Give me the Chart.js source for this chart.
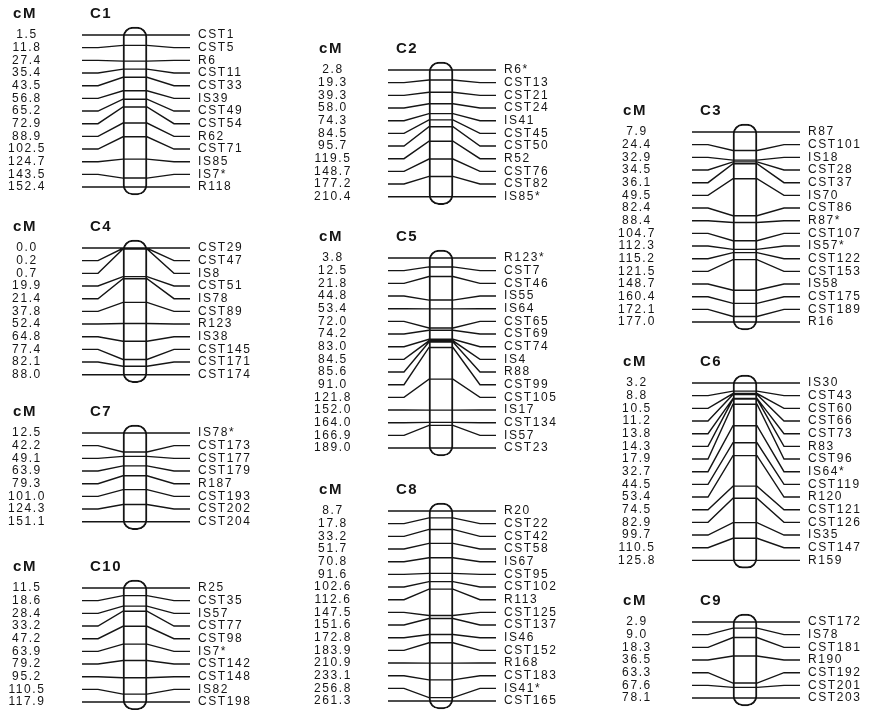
<!DOCTYPE html>
<html>
<head>
<meta charset="utf-8">
<title>Linkage map C1-C10</title>
<script src="https://cdn.jsdelivr.net/npm/chart.js@4.4.1/dist/chart.umd.min.js"></script>
<style>
  html, body { margin: 0; padding: 0; background: #fff; overflow: hidden; }
  #map { position: relative; width: 877px; height: 710px; }
  #map canvas { position: absolute; }
</style>
</head>
<body>
<div id="map"></div>
<script>
// ─── Map data: marker positions (cM) and marker names, top to bottom ───
const C1_CM = [1.5, 11.8, 27.4, 35.4, 43.5, 56.8, 65.2, 72.9, 88.9, 102.5, 124.7, 143.5, 152.4];
const C1_MARKERS = ['CST1', 'CST5', 'R6', 'CST11', 'CST33', 'IS39', 'CST49', 'CST54', 'R62', 'CST71', 'IS85', 'IS7*', 'R118'];

const C2_CM = [2.8, 19.3, 39.3, 58.0, 74.3, 84.5, 95.7, 119.5, 148.7, 177.2, 210.4];
const C2_MARKERS = ['R6*', 'CST13', 'CST21', 'CST24', 'IS41', 'CST45', 'CST50', 'R52', 'CST76', 'CST82', 'IS85*'];

const C3_CM = [7.9, 24.4, 32.9, 34.5, 36.1, 49.5, 82.4, 88.4, 104.7, 112.3, 115.2, 121.5, 148.7, 160.4, 172.1, 177.0];
const C3_MARKERS = ['R87', 'CST101', 'IS18', 'CST28', 'CST37', 'IS70', 'CST86', 'R87*', 'CST107', 'IS57*', 'CST122', 'CST153', 'IS58', 'CST175', 'CST189', 'R16'];

const C4_CM = [0.0, 0.2, 0.7, 19.9, 21.4, 37.8, 52.4, 64.8, 77.4, 82.1, 88.0];
const C4_MARKERS = ['CST29', 'CST47', 'IS8', 'CST51', 'IS78', 'CST89', 'R123', 'IS38', 'CST145', 'CST171', 'CST174'];

const C5_CM = [3.8, 12.5, 21.8, 44.8, 53.4, 72.0, 74.2, 83.0, 84.5, 85.6, 91.0, 121.8, 152.0, 164.0, 166.9, 189.0];
const C5_MARKERS = ['R123*', 'CST7', 'CST46', 'IS55', 'IS64', 'CST65', 'CST69', 'CST74', 'IS4', 'R88', 'CST99', 'CST105', 'IS17', 'CST134', 'IS57', 'CST23'];

const C6_CM = [3.2, 8.8, 10.5, 11.2, 13.8, 14.3, 17.9, 32.7, 44.5, 53.4, 74.5, 82.9, 99.7, 110.5, 125.8];
const C6_MARKERS = ['IS30', 'CST43', 'CST60', 'CST66', 'CST73', 'R83', 'CST96', 'IS64*', 'CST119', 'R120', 'CST121', 'CST126', 'IS35', 'CST147', 'R159'];

const C7_CM = [12.5, 42.2, 49.1, 63.9, 79.3, 101.0, 124.3, 151.1];
const C7_MARKERS = ['IS78*', 'CST173', 'CST177', 'CST179', 'R187', 'CST193', 'CST202', 'CST204'];

const C8_CM = [8.7, 17.8, 33.2, 51.7, 70.8, 91.6, 102.6, 112.6, 147.5, 151.6, 172.8, 183.9, 210.9, 233.1, 256.8, 261.3];
const C8_MARKERS = ['R20', 'CST22', 'CST42', 'CST58', 'IS67', 'CST95', 'CST102', 'R113', 'CST125', 'CST137', 'IS46', 'CST152', 'R168', 'CST183', 'IS41*', 'CST165'];

const C9_CM = [2.9, 9.0, 18.3, 36.5, 63.3, 67.6, 78.1];
const C9_MARKERS = ['CST172', 'IS78', 'CST181', 'R190', 'CST192', 'CST201', 'CST203'];

const C10_CM = [11.5, 18.6, 28.4, 33.2, 47.2, 63.9, 79.2, 95.2, 110.5, 117.9];
const C10_MARKERS = ['R25', 'CST35', 'IS57', 'CST77', 'CST98', 'IS7*', 'CST142', 'CST148', 'IS82', 'CST198'];

// ─── Page layout (pixels): where each linkage group sits ───
const PANELS = [
  { name: 'C1',  cm: C1_CM,  markers: C1_MARKERS,  left: 0,   top: 35 },
  { name: 'C4',  cm: C4_CM,  markers: C4_MARKERS,  left: 0,   top: 248 },
  { name: 'C7',  cm: C7_CM,  markers: C7_MARKERS,  left: 0,   top: 433 },
  { name: 'C10', cm: C10_CM, markers: C10_MARKERS, left: 0,   top: 588 },
  { name: 'C2',  cm: C2_CM,  markers: C2_MARKERS,  left: 306, top: 70 },
  { name: 'C5',  cm: C5_CM,  markers: C5_MARKERS,  left: 306, top: 258 },
  { name: 'C8',  cm: C8_CM,  markers: C8_MARKERS,  left: 306, top: 511 },
  { name: 'C3',  cm: C3_CM,  markers: C3_MARKERS,  left: 610, top: 132 },
  { name: 'C6',  cm: C6_CM,  markers: C6_MARKERS,  left: 610, top: 383 },
  { name: 'C9',  cm: C9_CM,  markers: C9_MARKERS,  left: 610, top: 622 },
];

const ROW = 12.67;          // label row spacing
const PAD_TOP = 32;
const PAD_BOTTOM = 12;
const LEFT_W = 82;          // width of the cM label column
const SPAN = 108;           // x units of the drawing area (1 unit = 1 px)
const BAR_X = 53, BAR_W = 24;
const X_PTS = [0, 16, BAR_X - BAR_W / 2, BAR_X + BAR_W / 2, 92, SPAN];
const FONT = { family: '"Liberation Sans", Arial, Helvetica, sans-serif', size: 12 };
const LETTER = '1.6px';
const INK = '#151515';

// measure the widest cM label so the column can be centred
const measureCtx = document.createElement('canvas').getContext('2d');
function widest(labels) {
  measureCtx.font = `${FONT.size}px ${FONT.family}`;
  measureCtx.letterSpacing = LETTER;
  return Math.max(...labels.map(l => measureCtx.measureText(l).width));
}

const spacingPlugin = {
  id: 'spacing',
  beforeLayout(c) { c.ctx.letterSpacing = LETTER; },
  beforeDraw(c) { c.ctx.letterSpacing = LETTER; },
};

const headerPlugin = {
  id: 'header',
  afterDraw(c, args, opts) {
    const { ctx, chartArea } = c;
    ctx.save();
    ctx.fillStyle = INK;
    ctx.font = `bold 15px ${FONT.family}`;
    ctx.letterSpacing = '1.5px';
    ctx.textBaseline = 'middle';
    ctx.textAlign = 'center';
    ctx.fillText('cM', chartArea.left - 57, chartArea.top - 21);
    ctx.textAlign = 'left';
    ctx.fillText(opts.name, chartArea.left + 8, chartArea.top - 21);
    ctx.restore();
  },
};

function buildPanel(p) {
  const n = p.cm.length;
  const first = p.cm[0], last = p.cm[n - 1];
  const cmLabels = p.cm.map(v => v.toFixed(1));
  const width = (p.left === 610 ? 877 - p.left : 290);
  const height = Math.round(PAD_TOP + (n - 1) * ROW + PAD_BOTTOM);

  // marker lines: label row -> position on the bar -> label row
  const pts = [];
  p.cm.forEach((v, i) => {
    const pos = (v - first) / (last - first) * (n - 1);
    const ys = [i, i, pos, pos, i, i];
    X_PTS.forEach((x, k) => pts.push({ x, y: ys[k] }));
    pts.push({ x: SPAN, y: null });
  });

  const canvas = document.createElement('canvas');
  canvas.width = width;
  canvas.height = height;
  canvas.style.left = p.left + 'px';
  canvas.style.top = (p.top - PAD_TOP) + 'px';
  document.getElementById('map').appendChild(canvas);

  const rowTicks = axis => { axis.ticks = p.cm.map((_, i) => ({ value: i })); };
  const leftPad = 55 - widest(cmLabels) / 2;

  new Chart(canvas.getContext('2d'), {
    type: 'bar',
    data: {
      datasets: [
        {
          type: 'bar',
          data: [{ x: BAR_X, y: [-0.62, n - 1 + 0.62] }],
          backgroundColor: '#ffffff',
          borderColor: INK,
          borderWidth: 2,
          borderRadius: 10,
          borderSkipped: false,
          barThickness: BAR_W,
          clip: false,
          order: 2,
        },
        {
          type: 'line',
          data: pts,
          borderColor: INK,
          borderWidth: 1.4,
          pointRadius: 0,
          tension: 0,
          spanGaps: false,
          fill: false,
          clip: false,
          order: 1,
        },
      ],
    },
    options: {
      responsive: false,
      animation: false,
      events: [],
      layout: { autoPadding: false, padding: { top: PAD_TOP, bottom: height - PAD_TOP - (n - 1) * ROW, left: 0, right: 0 } },
      plugins: { legend: { display: false }, tooltip: { enabled: false }, header: { name: p.name } },
      scales: {
        x: { type: 'linear', display: false, min: 0, max: SPAN, offset: false },
        y: {
          type: 'linear', position: 'left', min: 0, max: n - 1, reverse: true,
          grid: { display: false, drawTicks: false }, border: { display: false },
          afterBuildTicks: rowTicks,
          afterFit: s => { s.width = LEFT_W; s.paddingTop = 0; s.paddingBottom = 0; },
          ticks: {
            autoSkip: false, crossAlign: 'center', padding: leftPad,
            color: INK, font: FONT,
            callback: v => cmLabels[Math.round(v)],
          },
        },
        y2: {
          type: 'linear', position: 'right', min: 0, max: n - 1, reverse: true,
          grid: { display: false, drawTicks: false }, border: { display: false },
          afterBuildTicks: rowTicks,
          afterFit: s => { s.width = width - LEFT_W - SPAN; s.paddingTop = 0; s.paddingBottom = 0; },
          ticks: {
            autoSkip: false, crossAlign: 'near', padding: 8,
            color: INK, font: FONT,
            callback: v => p.markers[Math.round(v)],
          },
        },
      },
    },
    plugins: [spacingPlugin, headerPlugin],
  });
}

PANELS.forEach(buildPanel);
</script>
</body>
</html>
